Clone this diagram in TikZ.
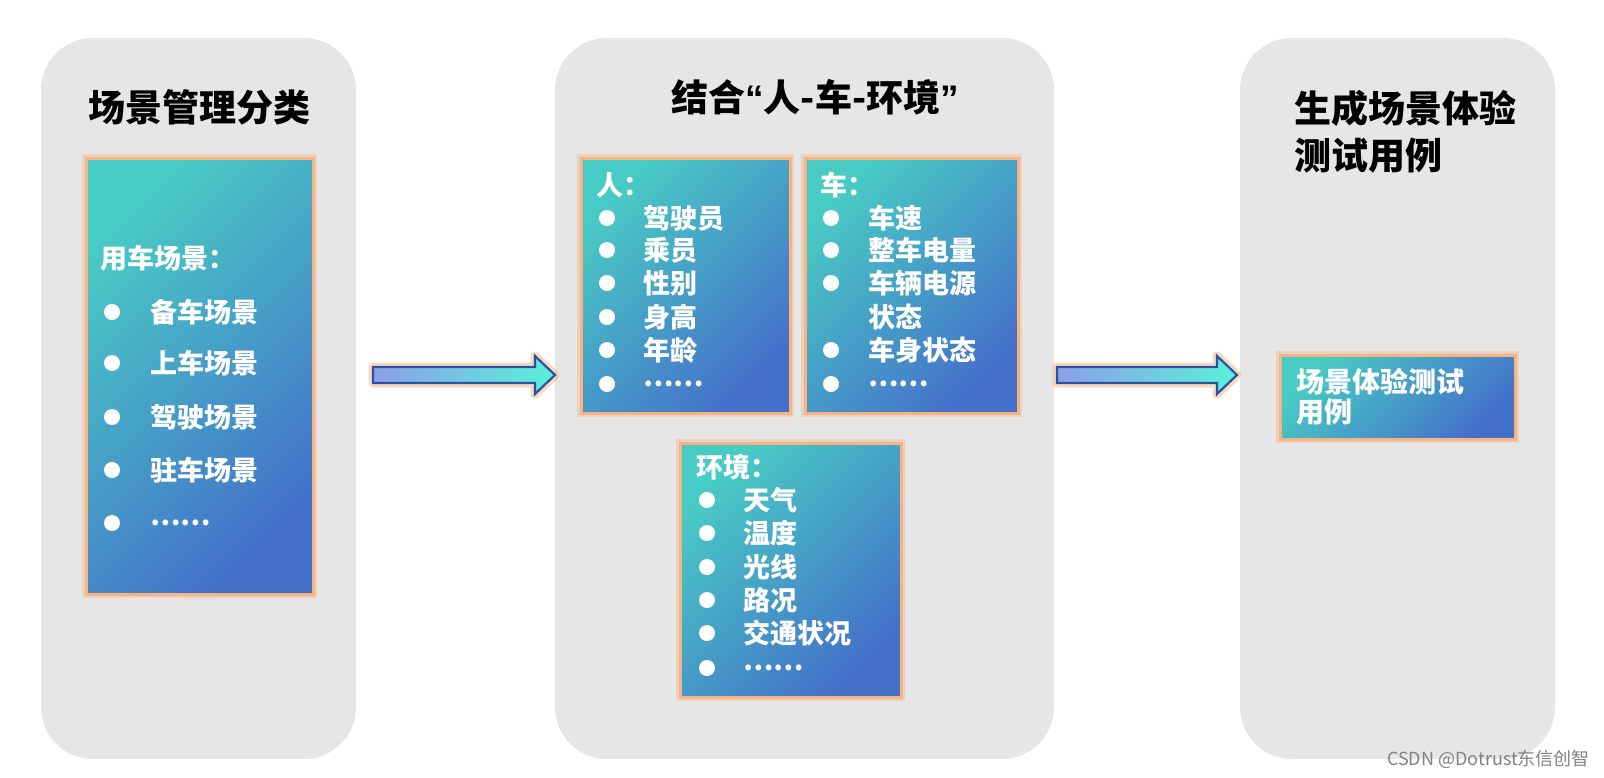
\documentclass[tikz,border=0pt]{standalone}
\usepackage{fontspec}
\setmainfont{Noto Sans CJK SC}
\newfontfamily\quotefont{Liberation Sans}
\usetikzlibrary{calc}
\definecolor{panelgray}{RGB}{230,230,230}
\definecolor{tealc}{RGB}{72,203,196}
\definecolor{bluec}{RGB}{68,112,202}
\definecolor{glowc}{RGB}{246,180,130}
\definecolor{arrL}{RGB}{140,160,232}
\definecolor{arrR}{RGB}{88,242,216}
\definecolor{arrB}{RGB}{44,80,162}
\definecolor{wmark}{RGB}{130,130,130}
\tikzset{
  panel/.style={fill=panelgray, rounded corners=52pt, inner sep=0},
  gbox/.style={inner sep=0, top color=tealc, bottom color=bluec, shading angle=45},
  glowline/.style={draw=glowc, line width=8pt, opacity=0.4},
  borderline/.style={draw=glowc, line width=3pt},
  itemtxt/.style={anchor=west, text=white, font=\bfseries\fontsize{27}{27}\selectfont, inner sep=0},
  bul/.style={circle, fill=white, inner sep=0, minimum size=16pt},
  ttl/.style={font=\bfseries\fontsize{37}{47}\selectfont, text=black, inner sep=0},
  arrowfill/.style={left color=arrL, right color=arrR},
}
\newcommand{\gradbox}[5]{%
  \path[glowline] (#2,#3) rectangle (#4,#5);
  \shade[gbox] (#2,#3) rectangle (#4,#5);
  \draw[borderline] (#2,#3) rectangle (#4,#5);
  \coordinate (#1) at ($(#2,#3)!0.5!(#4,#5)$);
}
\newcommand{\blockarrow}[2]{%
  \path[draw=glowc, line width=9pt, opacity=0.5, line join=round]
    ($(#1)+(0,-8)$) -- ($(#2)+(-20,-8)$) -- ($(#2)+(-20,-19)$) -- (#2) -- ($(#2)+(-20,19)$) -- ($(#2)+(-20,8)$) -- ($(#1)+(0,8)$) -- cycle;
  \shade[arrowfill, draw=arrB, line width=2.2pt]
    ($(#1)+(0,-8)$) -- ($(#2)+(-20,-8)$) -- ($(#2)+(-20,-19)$) -- (#2) -- ($(#2)+(-20,19)$) -- ($(#2)+(-20,8)$) -- ($(#1)+(0,8)$) -- cycle;
}
\begin{document}
\begin{tikzpicture}[x=1pt, y=-1pt]
\useasboundingbox (0,0) rectangle (1604,777);
\fill[white] (0,0) rectangle (1604,777);

% panels
\fill[panel] (41,38) rectangle (356,759);
\fill[panel] (555,38) rectangle (1054,759);
\fill[panel] (1240,38) rectangle (1555,759);
\coordinate (p1) at (198,398);
\coordinate (p2) at (804,398);
\coordinate (p3) at (1397,398);

% titles
\node[ttl] (t1) at (199,107) {场景管理分类};
\node[ttl] (t2) at (815,97) {结合{\quotefont “}人-车-环境{\quotefont ”}};
\node[ttl, anchor=west, align=left] (t3) at (1294,132) {生成场景体验\\测试用例};

% arrows
\coordinate (a1s) at (373,375);
\coordinate (a1e) at (555,375);
\coordinate (a2s) at (1057,375);
\coordinate (a2e) at (1237,375);
\blockarrow{a1s}{a1e}
\blockarrow{a2s}{a2e}

% box 1
\gradbox{b1}{86}{158}{313}{594}
\node[itemtxt] (b1h) at (100,258) {用车场景：};
\foreach \y/\t [count=\i] in {312/备车场景,363/上车场景,417/驾驶场景,470/驻车场景}{
  \node[bul] (b1d\i) at (112,\y) {};
  \node[itemtxt] (b1t\i) at (150,\y) {\t};
}
\node[bul] (b1d5) at (112,523) {};
\node[itemtxt] (b1t5) at (150,523) {……};

% box person
\gradbox{bp}{581}{158}{790}{413}
\node[itemtxt] (bph) at (596,185) {人：};
\foreach \y/\t [count=\i] in {218/驾驶员,250/乘员,283/性别,317/身高,350/年龄}{
  \node[bul] (bpd\i) at (607,\y) {};
  \node[itemtxt] (bpt\i) at (643,\y) {\t};
}
\node[bul] (bpd6) at (607,384) {};
\node[itemtxt] (bpt6) at (643,384) {……};

% box car
\gradbox{bc}{805}{158}{1018}{413}
\node[itemtxt] (bch) at (820,185) {车：};
\foreach \y/\t [count=\i] in {218/车速,250/整车电量,283/车辆电源,350/车身状态}{
  \node[bul] (bcd\i) at (831,\y) {};
  \node[itemtxt] (bct\i) at (868,\y) {\t};
}
\node[itemtxt] (bcx) at (868,317) {状态};
\node[bul] (bcd6) at (831,384) {};
\node[itemtxt] (bct6) at (868,384) {……};

% box environment
\gradbox{be}{680}{443}{901}{697}
\node[itemtxt] (beh) at (696,467) {环境：};
\foreach \y/\t [count=\i] in {500/天气,533/温度,567/光线,600/路况,633/交通状况}{
  \node[bul] (bed\i) at (707,\y) {};
  \node[itemtxt] (bet\i) at (743,\y) {\t};
}
\node[bul] (bed6) at (707,668) {};
\node[itemtxt] (bet6) at (743,668) {……};

% box result
\gradbox{br}{1280}{355}{1515}{439}
\node[itemtxt, font=\bfseries\fontsize{28}{30}\selectfont, align=left] (brt) at (1296,397) {场景体验测试\\用例};

% watermark
\node[anchor=east, text=wmark, font=\fontsize{18}{18}\selectfont, inner sep=0] (wm) at (1590,759) {CSDN @Dotrust东信创智};
\end{tikzpicture}
\end{document}
